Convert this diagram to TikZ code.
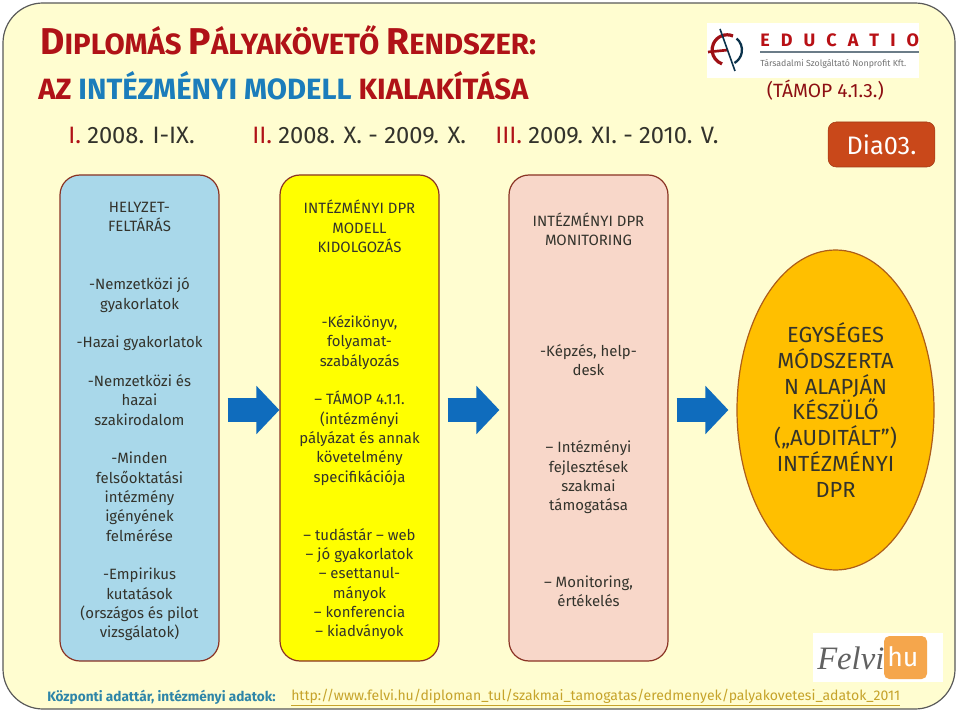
\documentclass[tikz,border=0pt]{standalone}
\usepackage{fontspec}
\setmainfont{Fira Sans}
\newfontfamily\serifit{Liberation Serif}
\usetikzlibrary{arrows.meta, shapes.geometric}
\definecolor{cframe}{HTML}{FFFDD0}
\definecolor{cedge}{HTML}{8A3324}
\definecolor{cred}{HTML}{B01217}
\definecolor{cblue}{HTML}{1B7DBB}
\definecolor{cink}{HTML}{33332C}
\definecolor{cskyb}{HTML}{A9D8EA}
\definecolor{cyell}{HTML}{FFFF00}
\definecolor{cpink}{HTML}{F8D7C9}
\definecolor{camber}{HTML}{FFBF00}
\definecolor{carrow}{HTML}{0F6CBD}
\definecolor{cbadge}{HTML}{C9481A}
\definecolor{clink}{HTML}{C6A32A}
\definecolor{cfoot}{HTML}{2E85A8}
\definecolor{cfelvi}{HTML}{F5A64C}
\tikzset{
  every picture/.style={x=0.75pt, y=-0.75pt},
  stagebox/.style={draw=cedge, fill=#1, line width=0.9pt, rounded corners=15pt, minimum width=119.25pt, minimum height=364.5pt, inner sep=0pt},
  stagetext/.style={align=center, text=cink, inner sep=0pt, font=\fontsize{11.2}{14.5}\selectfont},
  blockarrow/.style={-{Triangle[length=17.25pt, width=35.25pt]}, draw=carrow, line width=18pt, shorten <=6pt},
  period/.style={anchor=west, inner sep=0pt, text=cink, font=\fontsize{17.8}{20}\selectfont},
  toptitle/.style={anchor=west, inner sep=0pt, font=\bfseries},
}
\newcommand{\tbig}{\fontsize{28}{32}\selectfont}
\newcommand{\tsmall}{\fontsize{22}{32}\selectfont}
\begin{document}
\begin{tikzpicture}
  \useasboundingbox (0,0) rectangle (959,712);
  \draw[fill=cframe, draw=black!65, line width=0.9pt, rounded corners=30pt] (3,3) rectangle (955,709);
  % header
  \node[toptitle, text=cred] (title) at (40,40) {\tbig D\tsmall IPLOMÁS \tbig P\tsmall ÁLYAKÖVETŐ \tbig R\tsmall ENDSZER:};
  \node[toptitle, font=\bfseries\fontsize{22}{26}\selectfont, text=cred] (subtitle) at (38,86) {AZ \textcolor{cblue}{INTÉZMÉNYI MODELL} KIALAKÍTÁSA};
  \node[period] (phaseone) at (68,135.5) {\textcolor{cred}{I.} 2008. I-IX.};
  \node[period] (phasetwo) at (252,135.5) {\textcolor{cred}{II.} 2008. X. - 2009. X.};
  \node[period] (phasethree) at (495,135.5) {\textcolor{cred}{III.} 2009. XI. - 2010. V.};
  \node[anchor=east, inner sep=0pt, text=cred!80!black, font=\fontsize{14.4}{16}\selectfont] (tamop) at (884,90) {(TÁMOP 4.1.3.)};
  \node[draw=cbadge!80!black, fill=cbadge, rounded corners=6pt, minimum width=80pt, minimum height=33.75pt, inner sep=0pt, text=white, font=\fontsize{19}{22}\selectfont] (dia) at (881.5,144.5) {Dia03.};
  % educatio logo
  \fill[white] (707,23) rectangle (919,78);
  \draw[cred!90!black, line width=2.4pt] (733,36) arc (-67:-250:15);
  \draw[cred!90!black, line width=2pt] (708,52) -- (728,50);
  \draw[cblue!40!black, line width=1.7pt] (736.6,38.5) arc (-50:60:15);
  \draw[cblue!40!black, line width=1.2pt] (720,29) -- (735,71);
  \node[anchor=west, inner sep=0pt, text=cred!90!red, font=\bfseries\fontsize{13.5}{15}\selectfont] (educatio) at (760,40) {E\hspace{8.3pt}D\hspace{8.3pt}U\hspace{8.3pt}C\hspace{8.3pt}A\hspace{8.3pt}T\hspace{8.3pt}I\hspace{8.3pt}O};
  \draw[cblue!30!black!60, line width=1pt] (760,52) -- (919,52);
  \node[anchor=west, inner sep=0pt, text=black!55, font=\fontsize{6.6}{8}\selectfont] (educatiosub) at (760,64) {Társadalmi Szolgáltató Nonprofit Kft.};
  % stages
  \node[stagebox=cskyb] (helyzet) at (139.5,418) {};
  \node[stagetext] (helyzettext) at (139.5,421.5) {HELYZET-\\FELTÁRÁS\\[29pt]
    -Nemzetközi jó\\gyakorlatok\\[14.5pt]
    -Hazai gyakorlatok\\[14.5pt]
    -Nemzetközi és\\hazai\\szakirodalom\\[14.5pt]
    -Minden\\felsőoktatási\\intézmény\\igényének\\felmérése\\[14.5pt]
    -Empirikus\\kutatások\\(országos és pilot\\vizsgálatok)};
  \node[stagebox=cyell] (modell) at (359.5,418) {};
  \node[stagetext] (modelltext) at (359.5,420) {INTÉZMÉNYI DPR\\MODELL\\KIDOLGOZÁS\\[41.7pt]
    -Kézikönyv,\\folyamat-\\szabályozás\\[14.5pt]
    -- TÁMOP 4.1.1.\\(intézményi\\pályázat és annak\\követelmény\\specifikációja\\[29pt]
    -- tudástár -- web\\-- jó gyakorlatok\\-- esettanul-\\mányok\\-- konferencia\\-- kiadványok};
  \node[stagebox=cpink] (monitoring) at (588.5,418) {};
  \node[stagetext] (monitoringtext) at (588.5,410) {INTÉZMÉNYI DPR\\MONITORING\\[68.5pt]
    -Képzés, help-\\desk\\[43.2pt]
    -- Intézményi\\fejlesztések\\szakmai\\támogatása\\[43.2pt]
    -- Monitoring,\\értékelés};
  \node[ellipse, draw=cedge!70!camber, fill=camber, line width=0.9pt, minimum width=147.75pt, minimum height=240pt, inner sep=0pt, align=center, text=cink, font=\fontsize{16.4}{19.4}\selectfont] (dpr) at (835.5,410) {EGYSÉGES\\MÓDSZERTA\\N ALAPJÁN\\KÉSZÜLŐ\\(„AUDITÁLT”)\\INTÉZMÉNYI\\DPR};
  % arrows between stages
  \draw[blockarrow] ([yshift=6pt]helyzet.east) -- ([yshift=6pt]modell.west);
  \draw[blockarrow, shorten >=6.75pt] ([yshift=6pt]modell.east) -- ([yshift=6pt]monitoring.west);
  \draw[blockarrow, shorten >=6pt] ([yshift=6pt]monitoring.east) -- (dpr.west);
  % felvi logo
  \fill[white] (813,633) rectangle (943,682);
  \fill[cfelvi, rounded corners=4pt] (884,636) rectangle (927,679);
  \node[anchor=west, inner sep=0pt, text=black!62, font=\serifit\itshape\fontsize{24.5}{28}\selectfont] (felvi) at (817,658) {Felvi};
  \node[anchor=west, inner sep=0pt, text=white, font=\fontsize{20}{24}\selectfont] (hu) at (887,657) {hu};
  % footer
  \node[anchor=west, inner sep=0pt, text=cfoot, font=\bfseries\fontsize{10.2}{12}\selectfont] (adattar) at (47,697) {Központi adattár, intézményi adatok:};
  \node[anchor=west, inner sep=0pt, text=clink, font=\fontsize{10.53}{12}\selectfont] (url) at (291,698) {\underline{http://www.felvi.hu/diploman\_tul/szakmai\_tamogatas/eredmenyek/palyakovetesi\_adatok\_2011}};
\end{tikzpicture}
\end{document}
